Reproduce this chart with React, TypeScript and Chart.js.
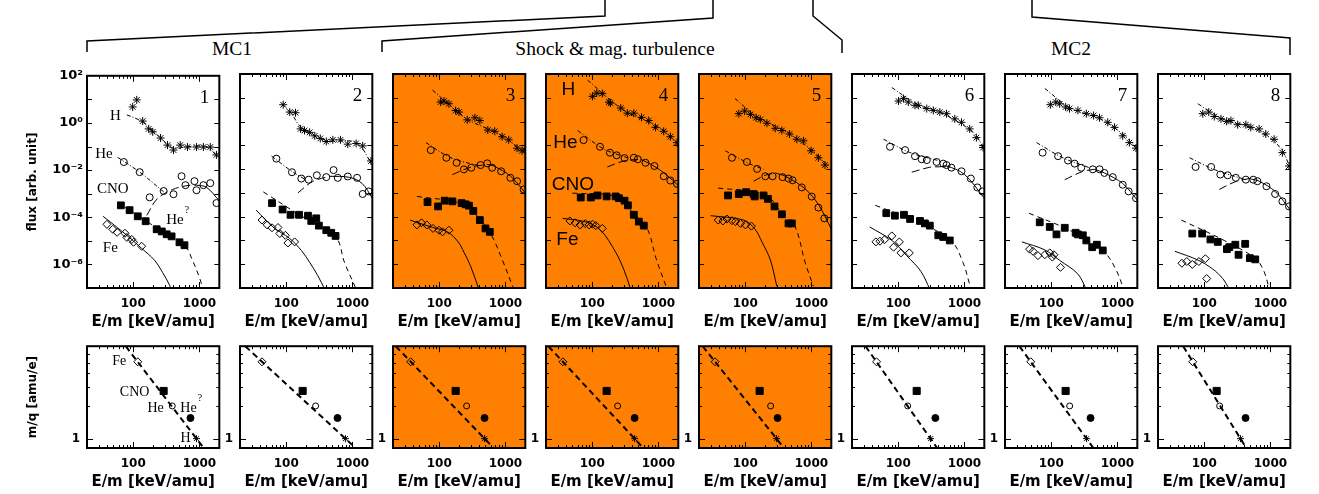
import React, { useEffect, useRef } from "react";
import { Chart, registerables } from "chart.js";

Chart.register(...registerables);

type Pt = [number, number];

// ---------------- axes ----------------
const X_MIN = 20;
const X_MAX = 2000;
const X_LABEL_TICKS = [100, 1000];
const X_TICK_TEXT = ["100", "1000"];
const X_MINOR_TICKS = [30, 40, 50, 60, 70, 80, 90, 200, 300, 400, 500, 600, 700, 800, 900];
const FLUX_MIN = 1e-7;
const FLUX_MAX = 100;
const FLUX_LABEL_TICKS = [1e-6, 1e-4, 1e-2, 1, 100];
const FLUX_TICK_TEXT = ["10⁻⁶", "10⁻⁴", "10⁻²", "10⁰", "10²"];
const FLUX_DECADES = [1e-6, 1e-5, 1e-4, 1e-3, 1e-2, 1e-1, 1, 10];
const MQ_MIN = 0.82;
const MQ_MAX = 7.1;
const MQ_LABEL_TICKS = [1];
const MQ_MINOR_TICKS = [2, 3, 4, 5, 6];
const PANEL_NUMBERS = ["1", "2", "3", "4", "5", "6", "7", "8"];
const SHOCK_PANELS = [false, false, true, true, true, false, false, false];
const GROUP_TITLES = ["MC1", "Shock & mag. turbulence", "MC2"];

// ---------------- panel 1 ----------------
const H_1: Pt[] = [[98, 4.8], [113, 9.5], [139, 1.2], [171, 0.56], [197, 0.42], [259, 0.23], [330, 0.115], [406, 0.071], [513, 0.115], [660, 0.095], [904, 0.095], [1150, 0.095], [1460, 0.095], [1810, 0.044]];
const HE_1: Pt[] = [[72, 0.022], [125, 0.0082], [177, 0.0007], [288, 0.0013], [406, 0.00095], [537, 0.0055], [615, 0.0023], [842, 0.0034], [904, 0.0014], [1150, 0.0023], [1460, 0.0028], [1810, 0.0004]];
const CNO_1: Pt[] = [[65, 3.2e-4], [88, 2.0e-4], [117, 1.1e-4], [154, 6.8e-5], [226, 3.1e-5], [270, 2.5e-5], [320, 1.9e-5], [380, 1.55e-5], [500, 8.7e-6], [595, 6.5e-6]];
const FE_1: Pt[] = [[40, 5.0e-5], [49, 3.1e-5], [57, 2.3e-5], [75, 2.1e-5], [80, 1.4e-5], [95, 1.15e-5], [101, 8.7e-6], [134, 5.9e-6]];
const H_FIT_1: Pt[] = [[80, 2.2], [139, 1.1], [259, 0.23], [406, 0.085], [660, 0.1], [1300, 0.095], [2000, 0.03]];
const HE_FIT_1: Pt[] = [[58, 0.035], [125, 0.0082], [288, 0.0012]];
const HE_BUMP_1: Pt[] = [[160, 1.2e-4], [230, 6e-4], [393, 0.0015], [650, 0.0022], [900, 0.0023]];
const HE_TAIL_1: Pt[] = [[900, 0.0023], [1270, 0.0019], [2000, 5e-4]];
const CNO_FIT_1: Pt[] = [[58, 4.4e-4], [177, 5.5e-5], [595, 6.5e-6], [785, 1.5e-6], [1000, 2.8e-7], [1190, 6e-8]];
const FE_FIT_1: Pt[] = [[35, 1.1e-4], [75, 2.0e-5], [134, 4.8e-6], [210, 1.5e-6], [277, 4.6e-7], [355, 1.3e-7], [393, 6e-8]];

// ---------------- panel 2 ----------------
const H_2: Pt[] = [[90, 5.1], [113, 2.5], [138, 2.35], [165, 0.49], [189, 0.42], [226, 0.35], [270, 0.25], [327, 0.195], [403, 0.145], [506, 0.17], [660, 0.17], [851, 0.112], [1138, 0.12], [1430, 0.095], [1910, 0.022]];
const HE_2: Pt[] = [[71, 0.0275], [122, 0.0074], [169, 0.004], [218, 0.0036], [290, 0.0055], [403, 0.0046], [519, 0.0091], [601, 0.0043], [851, 0.0049], [1178, 0.0043], [1430, 0.0009], [1760, 0.00115]];
const CNO_2: Pt[] = [[61, 3.7e-4], [88, 2.0e-4], [116, 1.2e-4], [156, 1.2e-4], [213, 1.1e-4], [239, 6.6e-5], [284, 8.5e-5], [311, 4.2e-5], [403, 2.7e-5], [479, 2.1e-5], [556, 1.55e-5]];
const FE_2: Pt[] = [[43, 7.2e-5], [51.5, 4.5e-5], [61, 3.4e-5], [75, 3.5e-5], [80, 1.95e-5], [97, 1.65e-5], [106, 7.8e-6], [134, 8.7e-6]];
const H_FIT_2: Pt[] = [[85, 5.6], [120, 2.2], [165, 0.6], [403, 0.16], [1138, 0.13], [2000, 0.015]];
const HE_FIT_2: Pt[] = [[60, 0.035], [122, 0.008], [200, 0.0035]];
const HE_BUMP_2: Pt[] = [[150, 0.001], [250, 0.003], [451, 0.005]];
const HE_TAIL_2: Pt[] = [[451, 0.005], [900, 0.0045], [1400, 0.0025], [2000, 6e-4]];
const CNO_FIT_2: Pt[] = [[45, 1.1e-3], [150, 1.3e-4], [556, 1.4e-5], [758, 1.2e-6], [1138, 9e-8]];
const FE_FIT_2: Pt[] = [[35, 1.9e-4], [63, 3.7e-5], [113, 1.2e-5], [169, 3.8e-6], [226, 1.2e-6], [300, 3.3e-7], [380, 9e-8]];

// ---------------- panel 3 ----------------
const H_3: Pt[] = [[105, 6.6], [118, 7.3], [140, 5.6], [177, 2.9], [199, 2.5], [265, 1.18], [346, 1.44], [411, 1.1], [542, 0.44], [690, 0.39], [893, 0.23], [1122, 0.17], [1500, 0.076], [1783, 0.059], [1990, 0.063]];
const HE_3: Pt[] = [[74.5, 0.063], [128, 0.03], [183, 0.0185], [236, 0.0097], [305, 0.0114], [421, 0.0148], [531, 0.0175], [631, 0.0114], [863, 0.0081], [1190, 0.0043], [1500, 0.0031], [1885, 0.0014]];
const CNO_3: Pt[] = [[66.5, 4.1e-4], [96, 2.7e-4], [121, 4.7e-4], [158, 4.4e-4], [218, 3.7e-4], [251, 3.3e-4], [281, 2.9e-4], [327, 1.75e-4], [411, 7.2e-5], [500, 3.2e-5], [581, 2.3e-5]];
const FE_3: Pt[] = [[46, 4.5e-5], [54, 5.5e-5], [65, 4.5e-5], [80.6, 3.2e-5], [99, 2.7e-5], [112, 2.3e-5], [140, 2.7e-5]];
const H_FIT_3: Pt[] = [[79, 21], [260, 1.3], [800, 0.3], [2000, 0.05]];
const HE_FIT_3: Pt[] = [[63, 0.13], [150, 0.03], [421, 0.0135]];
const HE_BUMP_3: Pt[] = [[158, 0.0059], [300, 0.012], [531, 0.0158]];
const HE_TAIL_3: Pt[] = [[531, 0.0158], [667, 0.0135], [1200, 0.005], [2000, 0.001]];
const CNO_FIT_3: Pt[] = [[46, 7.1e-4], [211, 3.7e-4], [350, 1.3e-4], [596, 1.95e-5], [900, 1.5e-6], [1334, 9e-8]];
const FE_FIT_3: Pt[] = [[36, 7.2e-5], [80, 3.5e-5], [133, 2.3e-5], [193, 8.7e-6], [236, 3.2e-6], [296, 8.7e-7], [397, 9e-8]];

// ---------------- panel 4 ----------------
const H_4: Pt[] = [[101, 11.5], [117, 15.9], [142, 15], [179, 6.6], [189, 6.0], [270, 3.7], [339, 2.25], [425, 2.25], [556, 1.5], [715, 1.1], [904, 0.57], [1203, 0.39], [1517, 0.23], [1910, 0.13]];
const HE_4: Pt[] = [[74, 0.166], [131, 0.087], [185, 0.049], [234, 0.038], [308, 0.029], [425, 0.03], [489, 0.026], [638, 0.0185], [871, 0.0135], [1203, 0.005], [1517, 0.0033], [1910, 0.0024]];
const CNO_4: Pt[] = [[67, 6.4e-4], [95, 6.4e-4], [120, 7.8e-4], [165, 7.1e-4], [226, 7.1e-4], [253, 6.0e-4], [308, 4.7e-4], [346, 3.0e-4], [425, 1.2e-4], [506, 6.2e-5], [601, 4.2e-5]];
const FE_4: Pt[] = [[46, 6.6e-5], [55.3, 5.5e-5], [65.6, 4.5e-5], [78.5, 5.1e-5], [89.5, 4.5e-5], [101, 4.8e-5], [113, 4.2e-5], [142, 3.2e-5]];
const H_FIT_4: Pt[] = [[85, 55], [300, 3], [1000, 0.6], [2000, 0.11]];
const HE_FIT_4: Pt[] = [[60, 0.42], [150, 0.07], [339, 0.03]];
const HE_BUMP_4: Pt[] = [[169, 0.0123], [300, 0.022], [537, 0.026]];
const HE_TAIL_4: Pt[] = [[537, 0.026], [800, 0.015], [1300, 0.006], [2000, 0.002]];
const CNO_FIT_4: Pt[] = [[50, 9.8e-4], [226, 7e-4], [425, 1.3e-4], [676, 3.2e-5], [925, 1.7e-6], [1352, 9e-8]];
const FE_FIT_4: Pt[] = [[35.6, 8.5e-5], [80, 6e-5], [134, 2.7e-5], [226, 3.2e-6], [300, 6e-7], [380, 9e-8]];

// ---------------- panel 5 ----------------
const H_5: Pt[] = [[80, 2.14], [98, 2.76], [120, 2.0], [146, 1.44], [169, 1.22], [213, 0.85], [284, 0.52], [358, 0.42], [467, 0.3], [601, 0.18], [758, 0.155], [991, 0.059], [1276, 0.03], [1608, 0.0148]];
const HE_5: Pt[] = [[63, 0.03], [106, 0.02], [151, 0.0102], [201, 0.005], [259, 0.005], [367, 0.0046], [451, 0.004], [519, 0.0034], [715, 0.0017], [1012, 0.0007], [1276, 0.00024], [1570, 8.5e-5]];
const CNO_5: Pt[] = [[55, 7.8e-4], [80, 8.9e-4], [103, 1.07e-3], [134, 8.9e-4], [139, 7.1e-4], [189, 7.8e-4], [220, 5.6e-4], [277, 2.7e-4], [358, 1.26e-4], [451, 5.2e-5], [506, 5.2e-5]];
const FE_5: Pt[] = [[39, 7.2e-5], [46, 6.6e-5], [53, 8e-5], [63, 6.8e-5], [71, 6.2e-5], [85, 5.2e-5], [101, 4.5e-5], [124, 4e-5]];
const H_FIT_5: Pt[] = [[70, 9.3], [150, 1.6], [400, 0.4], [1000, 0.065], [1800, 0.013]];
const HE_FIT_5: Pt[] = [[50, 0.059], [110, 0.018], [189, 0.0098]];
const HE_BUMP_5: Pt[] = [[134, 0.0031], [200, 0.0055], [284, 0.0069]];
const HE_TAIL_5: Pt[] = [[284, 0.0069], [403, 0.005], [800, 0.0015], [1300, 3e-4], [2000, 3e-5]];
const CNO_FIT_5: Pt[] = [[39, 1.6e-3], [201, 8.3e-4], [403, 8.5e-5], [569, 3.7e-5], [804, 1.2e-6], [1070, 1.2e-7]];
const FE_FIT_5: Pt[] = [[30, 1.1e-4], [95, 7.2e-5], [140, 3e-5], [179, 8.7e-6], [240, 1.5e-6], [300, 1.2e-7]];

// ---------------- panel 6 ----------------
const H_6: Pt[] = [[101, 7.3], [120, 9.2], [142, 6.6], [179, 4.8], [201, 4.8], [270, 3.5], [339, 2.95], [425, 2.5], [537, 2.14], [715, 1.3], [904, 0.93], [1203, 0.49], [1517, 0.21], [1910, 0.081]];
const HE_6: Pt[] = [[75, 0.087], [127, 0.063], [179, 0.035], [226, 0.026], [270, 0.024], [380, 0.02], [479, 0.017], [537, 0.0148], [636, 0.0115], [904, 0.0081], [1250, 0.004], [1570, 0.0017], [1870, 0.00115]];
const CNO_6: Pt[] = [[66, 1.4e-4], [89, 1.1e-4], [122, 1.2e-4], [151, 8e-5], [213, 6.6e-5], [253, 5.2e-5], [300, 4.2e-5], [403, 1.65e-5], [479, 1.4e-5], [601, 1.0e-5]];
const FE_6: Pt[] = [[46, 8.7e-6], [53, 9.3e-6], [62, 1.07e-5], [80, 1.55e-5], [85, 5.2e-6], [104, 8.7e-6], [110, 3.0e-6], [147, 3.0e-6]];
const H_FIT_6: Pt[] = [[80, 27], [200, 5], [425, 2.5], [1350, 0.35], [2000, 0.07]];
const HE_FIT_6: Pt[] = [[60, 0.18], [150, 0.05], [425, 0.022]];
const HE_BUMP_6: Pt[] = [[160, 0.0074], [300, 0.012], [425, 0.0125]];
const HE_TAIL_6: Pt[] = [[425, 0.0125], [537, 0.0135], [1000, 0.006], [2000, 6e-4]];
const CNO_FIT_6: Pt[] = [[45, 3e-4], [200, 6e-5], [636, 9.5e-6], [950, 1.2e-6], [1203, 1.4e-7]];
const FE_FIT_6: Pt[] = [[37, 3.7e-5], [80, 1e-5], [134, 2.3e-6], [220, 5e-7], [300, 9e-8]];

// ---------------- panel 7 ----------------
const H_7: Pt[] = [[97, 5.1], [117, 6.6], [134, 5.6], [165, 4.1], [189, 3.5], [253, 2.95], [339, 2.14], [437, 1.8], [537, 1.44], [715, 0.93], [904, 0.57], [1203, 0.25], [1517, 0.13], [1910, 0.076]];
const HE_7: Pt[] = [[74, 0.049], [127, 0.035], [179, 0.023], [226, 0.017], [284, 0.0114], [425, 0.0098], [537, 0.0098], [636, 0.0069], [851, 0.0046], [1203, 0.0022], [1480, 0.00115], [1910, 6e-4]];
const CNO_7: Pt[] = [[67, 5.8e-5], [95, 3.7e-5], [120, 1.8e-5], [160, 3.4e-5], [234, 2.1e-5], [253, 1.8e-5], [300, 1.65e-5], [339, 1.0e-5], [416, 5.2e-6], [489, 6.6e-6], [601, 3.8e-6]];
const FE_7: Pt[] = [[47, 4.3e-6], [53, 3.5e-6], [63, 2.3e-6], [80, 2.5e-6], [95, 3.0e-6], [104, 2.0e-6], [110, 2.5e-6], [138, 7.4e-7]];
const H_FIT_7: Pt[] = [[80, 24.6], [200, 3.5], [500, 1.5], [1200, 0.3], [2000, 0.069]];
const HE_FIT_7: Pt[] = [[60, 0.13], [150, 0.03], [380, 0.0114]];
const HE_BUMP_7: Pt[] = [[160, 0.0036], [300, 0.008], [451, 0.0098]];
const HE_TAIL_7: Pt[] = [[451, 0.0098], [636, 0.0069], [1200, 0.0025], [2000, 5e-4]];
const CNO_FIT_7: Pt[] = [[46, 1.4e-4], [200, 2.5e-5], [636, 3.2e-6], [950, 6e-7], [1203, 1.2e-7]];
const FE_FIT_7: Pt[] = [[36, 8.7e-6], [80, 4e-6], [134, 1.45e-6], [250, 4e-7], [339, 9e-8]];

// ---------------- panel 8 ----------------
const H_8: Pt[] = [[95, 2.14], [117, 2.5], [142, 1.63], [179, 1.3], [218, 1.02], [253, 1.1], [320, 0.74], [425, 0.74], [506, 0.57], [676, 0.49], [851, 0.3], [1138, 0.18], [1517, 0.049], [1910, 0.0135]];
const HE_8: Pt[] = [[74, 0.0123], [127, 0.0123], [175, 0.0059], [226, 0.0055], [300, 0.0043], [425, 0.0036], [550, 0.0036], [636, 0.0031], [871, 0.0019], [1178, 0.0009], [1517, 4.4e-4], [1910, 2.7e-4]];
const CNO_8: Pt[] = [[66, 1.95e-5], [93, 1.95e-5], [124, 1.1e-5], [160, 8.7e-6], [220, 4.3e-6], [239, 5.2e-6], [295, 6.6e-6], [330, 2.5e-6], [416, 7.2e-6], [489, 1.8e-6], [590, 1.6e-6]];
const FE_8: Pt[] = [[46, 1.1e-6], [54.5, 1.3e-6], [66, 9.8e-7], [83, 1.3e-6], [104, 1.7e-6], [109, 2.5e-7]];
const H_FIT_8: Pt[] = [[80, 5.6], [200, 1.2], [479, 0.61], [1000, 0.2], [1517, 0.059], [2000, 0.011]];
const HE_FIT_8: Pt[] = [[60, 0.03], [150, 0.009], [425, 0.0036]];
const HE_BUMP_8: Pt[] = [[169, 0.0014], [300, 0.003], [479, 0.004]];
const HE_TAIL_8: Pt[] = [[479, 0.004], [676, 0.0031], [1200, 0.0011], [2000, 1.9e-4]];
const CNO_FIT_8: Pt[] = [[45, 7.2e-5], [200, 1e-5], [601, 1.7e-6], [800, 5e-7], [950, 1.05e-7]];
const FE_FIT_8: Pt[] = [[36, 3.5e-6], [80, 1.5e-6], [134, 6.3e-7], [190, 2.5e-7], [239, 9e-8]];

// ---------------- m/q panels (Fe, CNO, He, He?, H) ----------------
const MQ_VALUES = [5.1, 2.75, 2.0, 1.55, 1.0];
const MQ_E_1 = [117, 288, 389, 733, 904];
const MQ_E_2 = [43, 177, 278, 596, 785];
const MQ_E_3 = [37, 177, 259, 484, 484];
const MQ_E_4 = [36, 165, 242, 437, 437];
const MQ_E_5 = [35, 165, 242, 308, 297];
const MQ_E_6 = [47, 190, 139, 364, 308];
const MQ_E_7 = [49, 165, 190, 393, 342];
const MQ_E_8 = [67, 154, 171, 421, 353];
const MQ_FIT_1: Pt[] = [[77, 7.1], [1159, 0.82]];
const MQ_FIT_2: Pt[] = [[24, 7.1], [1117, 0.82]];
const MQ_FIT_3: Pt[] = [[22, 7.1], [662, 0.82]];
const MQ_FIT_4: Pt[] = [[21.7, 7.1], [591, 0.82]];
const MQ_FIT_5: Pt[] = [[22.7, 7.1], [385, 0.82]];
const MQ_FIT_6: Pt[] = [[32, 7.1], [387, 0.82]];
const MQ_FIT_7: Pt[] = [[33, 7.1], [433, 0.82]];
const MQ_FIT_8: Pt[] = [[48, 7.1], [432, 0.82]];

const H_ALL = [H_1, H_2, H_3, H_4, H_5, H_6, H_7, H_8];
const HE_ALL = [HE_1, HE_2, HE_3, HE_4, HE_5, HE_6, HE_7, HE_8];
const CNO_ALL = [CNO_1, CNO_2, CNO_3, CNO_4, CNO_5, CNO_6, CNO_7, CNO_8];
const FE_ALL = [FE_1, FE_2, FE_3, FE_4, FE_5, FE_6, FE_7, FE_8];
const H_FIT_ALL = [H_FIT_1, H_FIT_2, H_FIT_3, H_FIT_4, H_FIT_5, H_FIT_6, H_FIT_7, H_FIT_8];
const HE_FIT_ALL = [HE_FIT_1, HE_FIT_2, HE_FIT_3, HE_FIT_4, HE_FIT_5, HE_FIT_6, HE_FIT_7, HE_FIT_8];
const HE_BUMP_ALL = [HE_BUMP_1, HE_BUMP_2, HE_BUMP_3, HE_BUMP_4, HE_BUMP_5, HE_BUMP_6, HE_BUMP_7, HE_BUMP_8];
const HE_TAIL_ALL = [HE_TAIL_1, HE_TAIL_2, HE_TAIL_3, HE_TAIL_4, HE_TAIL_5, HE_TAIL_6, HE_TAIL_7, HE_TAIL_8];
const CNO_FIT_ALL = [CNO_FIT_1, CNO_FIT_2, CNO_FIT_3, CNO_FIT_4, CNO_FIT_5, CNO_FIT_6, CNO_FIT_7, CNO_FIT_8];
const FE_FIT_ALL = [FE_FIT_1, FE_FIT_2, FE_FIT_3, FE_FIT_4, FE_FIT_5, FE_FIT_6, FE_FIT_7, FE_FIT_8];
const MQ_E_ALL = [MQ_E_1, MQ_E_2, MQ_E_3, MQ_E_4, MQ_E_5, MQ_E_6, MQ_E_7, MQ_E_8];
const MQ_FIT_ALL = [MQ_FIT_1, MQ_FIT_2, MQ_FIT_3, MQ_FIT_4, MQ_FIT_5, MQ_FIT_6, MQ_FIT_7, MQ_FIT_8];

// ---------------- layout & styles ----------------
const SANS = "'DejaVu Sans', sans-serif";
const SERIF = "'Liberation Serif', 'Times New Roman', serif";
const HELV = "'Liberation Sans', Arial, sans-serif";
const ORANGE = "#ff8000";
const PANEL_LEFT = [87, 240, 393, 546, 699, 852, 1005, 1158];
const PLOT_W = 133;
const TOP_PLOT_TOP = 74;
const TOP_PLOT_H = 214;
const BOT_PLOT_TOP = 342;
const BOT_PLOT_H = 106;
const PAD_TOP = 10;
const PAD_RIGHT = 6;
const XAXIS_H = 45;

type Label = { text: string; sup?: string; e: number; v: number; font: string };
const TOP_LABELS_1: Label[] = [
  { text: "H", e: 53.7, v: 1.89, font: `15px ${SERIF}` },
  { text: "He", e: 36, v: 0.05, font: `15px ${SERIF}` },
  { text: "CNO", e: 49.2, v: 1.55e-3, font: `15px ${SERIF}` },
  { text: "He", sup: "?", e: 428, v: 7.45e-5, font: `15px ${SERIF}` },
  { text: "Fe", e: 45.1, v: 4.8e-6, font: `15px ${SERIF}` },
];
const TOP_LABELS_4: Label[] = [
  { text: "H", e: 43.6, v: 21.9, font: `19px ${HELV}` },
  { text: "He", e: 39.3, v: 0.134, font: `19px ${HELV}` },
  { text: "CNO", e: 51, v: 2.2e-3, font: `19px ${HELV}` },
  { text: "Fe", e: 42.1, v: 1.1e-5, font: `19px ${HELV}` },
];
const BOT_LABELS_1: Label[] = [
  { text: "Fe", e: 61.6, v: 5.1, font: `14px ${SERIF}` },
  { text: "CNO", e: 105, v: 2.66, font: `14px ${SERIF}` },
  { text: "He", e: 218, v: 1.92, font: `14px ${SERIF}` },
  { text: "He", sup: "?", e: 684, v: 1.92, font: `14px ${SERIF}` },
  { text: "H", e: 616, v: 1.0, font: `14px ${SERIF}` },
];

const toXY = (a: Pt[]) => a.map(([x, y]) => ({ x, y }));

function pointSet(data: Pt[], style: string, radius: number, filled: boolean) {
  return {
    data: toXY(data),
    showLine: false,
    pointStyle: style,
    pointRadius: radius,
    pointHoverRadius: radius,
    pointBorderColor: "#000",
    pointBackgroundColor: filled ? "#000" : "rgba(0,0,0,0)",
    pointBorderWidth: 1,
  };
}

function lineSet(data: Pt[], dash: number[], width = 1) {
  return {
    data: toXY(data),
    showLine: true,
    pointRadius: 0,
    pointHoverRadius: 0,
    borderColor: "#000",
    backgroundColor: "rgba(0,0,0,0)",
    borderWidth: width,
    borderDash: dash,
    tension: 0.35,
    fill: false,
  };
}

type Decor = {
  fill?: string;
  number?: string;
  labels: Label[];
  yMajor: number[];
  yMinor: number[];
  yMajorLen: number;
};

function decorPlugin(d: Decor) {
  return {
    id: "decor",
    beforeDatasetsDraw(chart: any) {
      if (!d.fill) return;
      const { ctx, chartArea: a } = chart;
      ctx.save();
      ctx.fillStyle = d.fill;
      ctx.fillRect(a.left, a.top, a.right - a.left, a.bottom - a.top);
      ctx.restore();
    },
    afterDraw(chart: any) {
      const { ctx, chartArea: a, scales } = chart;
      const x = scales.x;
      const y = scales.y;
      ctx.save();
      ctx.strokeStyle = "#000";
      ctx.lineWidth = 1;
      ctx.beginPath();
      const xt = (v: number, len: number) => {
        const p = Math.round(x.getPixelForValue(v)) + 0.5;
        ctx.moveTo(p, a.bottom);
        ctx.lineTo(p, a.bottom - len);
        ctx.moveTo(p, a.top);
        ctx.lineTo(p, a.top + len);
      };
      const yt = (v: number, len: number) => {
        const p = Math.round(y.getPixelForValue(v)) + 0.5;
        ctx.moveTo(a.left, p);
        ctx.lineTo(a.left + len, p);
        ctx.moveTo(a.right, p);
        ctx.lineTo(a.right - len, p);
      };
      X_MINOR_TICKS.forEach((v) => xt(v, 3));
      X_LABEL_TICKS.forEach((v) => xt(v, 6));
      d.yMinor.forEach((v) => yt(v, 3));
      d.yMajor.forEach((v) => yt(v, d.yMajorLen));
      ctx.stroke();
      ctx.lineWidth = 2;
      ctx.strokeRect(a.left, a.top, a.right - a.left, a.bottom - a.top);
      ctx.fillStyle = "#000";
      if (d.number) {
        ctx.font = `19px ${SERIF}`;
        ctx.textAlign = "right";
        ctx.textBaseline = "middle";
        ctx.fillText(d.number, a.right - 10, a.top + 22);
      }
      d.labels.forEach((lb) => {
        const px = x.getPixelForValue(lb.e);
        const py = y.getPixelForValue(lb.v);
        ctx.font = lb.font;
        ctx.textAlign = "center";
        ctx.textBaseline = "middle";
        ctx.fillText(lb.text, px, py);
        if (lb.sup) {
          const w = ctx.measureText(lb.text).width;
          ctx.font = `10px ${SERIF}`;
          ctx.textAlign = "left";
          ctx.fillText(lb.sup, px + w / 2 + 1, py - 10);
        }
      });
      ctx.restore();
    },
  };
}

function xScale() {
  return {
    type: "logarithmic",
    position: "bottom",
    min: X_MIN,
    max: X_MAX,
    afterBuildTicks: (s: any) => {
      s.ticks = X_LABEL_TICKS.map((value) => ({ value }));
    },
    afterFit: (s: any) => {
      s.height = XAXIS_H;
    },
    ticks: {
      autoSkip: false,
      maxRotation: 0,
      padding: 9,
      color: "#000",
      font: { family: SANS, size: 12, weight: "bold" },
      callback: (v: number) => X_TICK_TEXT[X_LABEL_TICKS.indexOf(v)] ?? "",
    },
    grid: { display: false, drawTicks: false },
    border: { display: false },
    title: {
      display: true,
      text: "E/m [keV/amu]",
      color: "#000",
      font: { family: SANS, size: 15, weight: "bold" },
      padding: { top: 0, bottom: 2 },
    },
  };
}

function yScale(kind: "flux" | "mq", first: boolean, width: number) {
  const isFlux = kind === "flux";
  const labelTicks = isFlux ? FLUX_LABEL_TICKS : MQ_LABEL_TICKS;
  return {
    type: "logarithmic",
    position: "left",
    min: isFlux ? FLUX_MIN : MQ_MIN,
    max: isFlux ? FLUX_MAX : MQ_MAX,
    afterBuildTicks: (s: any) => {
      s.ticks = labelTicks.map((value) => ({ value }));
    },
    afterFit: (s: any) => {
      s.width = width;
    },
    ticks: {
      display: isFlux ? first : true,
      autoSkip: false,
      padding: isFlux ? 4 : 7,
      color: "#000",
      font: { family: SANS, size: isFlux ? 13 : 12, weight: "bold" },
      callback: (v: number) => {
        if (!isFlux) return "1";
        const i = FLUX_LABEL_TICKS.findIndex((t) => Math.abs(Math.log10(t) - Math.log10(v)) < 1e-6);
        return i >= 0 ? FLUX_TICK_TEXT[i] : "";
      },
    },
    grid: { display: false, drawTicks: false },
    border: { display: false },
    title: {
      display: first,
      text: isFlux ? "flux [arb. unit]" : "m/q [amu/e]",
      color: "#000",
      font: { family: SANS, size: 12, weight: "bold" },
      padding: { top: 26, bottom: 0 },
    },
  };
}

function topConfig(i: number, width: number) {
  const datasets = [
    pointSet(H_ALL[i], "star", 4, false),
    pointSet(HE_ALL[i], "circle", 3.5, false),
    pointSet(CNO_ALL[i], "rect", 4.8, true),
    pointSet(FE_ALL[i], "rectRot", 4, false),
    lineSet(H_FIT_ALL[i], [4, 2, 1, 2]),
    lineSet(HE_FIT_ALL[i], [4, 2, 1, 2]),
    lineSet(HE_BUMP_ALL[i], [8, 4]),
    lineSet(HE_TAIL_ALL[i], []),
    lineSet(CNO_FIT_ALL[i], [5, 4]),
    lineSet(FE_FIT_ALL[i], []),
  ];
  const labels = i === 0 ? TOP_LABELS_1 : i === 3 ? TOP_LABELS_4 : [];
  return {
    type: "scatter",
    data: { datasets },
    options: {
      animation: false,
      responsive: false,
      maintainAspectRatio: false,
      events: [],
      layout: { padding: { top: PAD_TOP, right: PAD_RIGHT, left: 0, bottom: 0 } },
      plugins: { legend: { display: false }, tooltip: { enabled: false }, title: { display: false } },
      scales: { x: xScale(), y: yScale("flux", i === 0, width) },
    },
    plugins: [
      decorPlugin({
        fill: SHOCK_PANELS[i] ? ORANGE : undefined,
        number: PANEL_NUMBERS[i],
        labels,
        yMajor: FLUX_DECADES,
        yMinor: [],
        yMajorLen: 5,
      }),
    ],
  };
}

function bottomConfig(i: number, width: number) {
  const pts: Pt[] = MQ_E_ALL[i].map((e, k) => [e, MQ_VALUES[k]] as Pt);
  const datasets = [
    pointSet([pts[0]], "rectRot", 4, false),
    pointSet([pts[1]], "rect", 5, true),
    pointSet([pts[2]], "circle", 3, false),
    pointSet([pts[3]], "circle", 3.5, true),
    pointSet([pts[4]], "star", 3.5, false),
    lineSet(MQ_FIT_ALL[i], [6, 4], 2),
  ];
  return {
    type: "scatter",
    data: { datasets },
    options: {
      animation: false,
      responsive: false,
      maintainAspectRatio: false,
      events: [],
      layout: { padding: { top: PAD_TOP, right: PAD_RIGHT, left: 0, bottom: 0 } },
      plugins: { legend: { display: false }, tooltip: { enabled: false }, title: { display: false } },
      scales: { x: xScale(), y: yScale("mq", i === 0, width) },
    },
    plugins: [
      decorPlugin({
        fill: SHOCK_PANELS[i] ? ORANGE : undefined,
        labels: i === 0 ? BOT_LABELS_1 : [],
        yMajor: MQ_LABEL_TICKS,
        yMinor: MQ_MINOR_TICKS,
        yMajorLen: 6,
      }),
    ],
  };
}

function ChartPanel(props: { make: (w: number) => any; left: number; top: number; axisW: number; plotH: number }) {
  const ref = useRef<HTMLCanvasElement>(null);
  const width = props.axisW + PLOT_W + PAD_RIGHT;
  const height = PAD_TOP + props.plotH + XAXIS_H;
  useEffect(() => {
    const chart = new Chart(ref.current as HTMLCanvasElement, props.make(props.axisW) as any);
    return () => chart.destroy();
  }, []);
  return (
    <canvas
      ref={ref}
      width={width}
      height={height}
      style={{ position: "absolute", left: props.left - props.axisW, top: props.top - PAD_TOP, width, height }}
    />
  );
}

function Brackets() {
  const lines = [
    "87,52 87,41 605,16 605,0",
    "382,52 382,41 713,18 713,0",
    "813,0 813,16 842,40 842,53",
    "1032,0 1032,17 1290,38 1290,55",
  ];
  const textX = [232, 615, 1071];
  return (
    <svg width={1319} height={64} style={{ position: "absolute", left: 0, top: 0 }}>
      {lines.map((p, k) => (
        <polyline key={k} points={p} fill="none" stroke="#000" strokeWidth={1.5} />
      ))}
      {GROUP_TITLES.map((t, k) => (
        <text key={t} x={textX[k]} y={48} textAnchor="middle" dominantBaseline="central" fontFamily={SERIF} fontSize={19.5} fill="#000">
          {t}
        </text>
      ))}
    </svg>
  );
}

export default function App() {
  return (
    <div style={{ position: "absolute", left: 0, top: 0, width: 1319, height: 494, background: "#fff", overflow: "hidden" }}>
      <Brackets />
      {PANEL_LEFT.map((L, i) => (
        <ChartPanel key={"t" + i} make={(w) => topConfig(i, w)} left={L} top={TOP_PLOT_TOP} axisW={i === 0 ? 87 : 24} plotH={TOP_PLOT_H} />
      ))}
      {PANEL_LEFT.map((L, i) => (
        <ChartPanel key={"b" + i} make={(w) => bottomConfig(i, w)} left={L} top={BOT_PLOT_TOP} axisW={i === 0 ? 87 : 24} plotH={BOT_PLOT_H} />
      ))}
    </div>
  );
}
